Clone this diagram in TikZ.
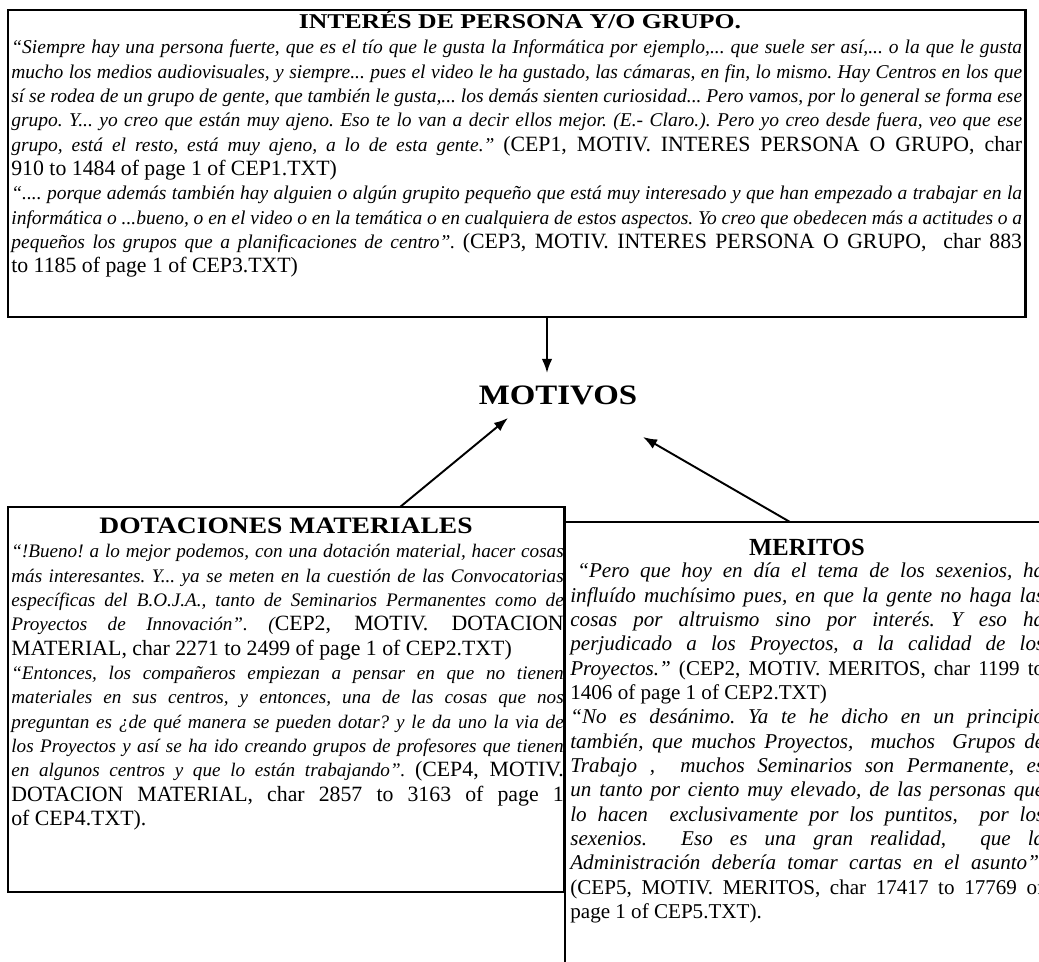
\documentclass[tikz,border=0pt]{standalone}
\usepackage{fontspec}
\setmainfont{Liberation Serif}
\newfontfamily\garbold[FakeStretch=1.17]{Liberation Serif}
\newfontfamily\garwide[FakeStretch=1.22]{Liberation Serif}
\usetikzlibrary{arrows.meta,calc}

% quotation (italic) and reference (roman) runs
\newcommand\Qit[1]{{\fontsize{11.1pt}{13.85pt}\selectfont\itshape #1}}
\newcommand\Dit[1]{{\fontsize{10.9pt}{13.85pt}\selectfont\itshape #1}}
\newcommand\Rrm[1]{{\fontsize{12.4pt}{13.85pt}\selectfont #1}}
\newcommand\Mit[1]{{\fontsize{12pt}{13.85pt}\selectfont\itshape #1}}
\newcommand\Mrm[1]{{\fontsize{12pt}{13.85pt}\selectfont #1}}

\begin{document}
\begin{tikzpicture}[x=0.02cm,y=-0.02cm,
  box/.style={draw, line width=1.6pt, inner sep=0pt, outer sep=0pt, anchor=north west},
  body/.style={inner sep=0pt, anchor=base west, align=justify,
    execute at begin node={\setlength\parindent{0pt}\setlength\parskip{0pt}%
      \frenchspacing\tolerance=10000 \hyphenpenalty=10000 \hbadness=10000}},
  heading/.style={inner sep=0pt, anchor=base},
  link/.style={line width=1.1pt, -{Latex[length=8pt,width=6pt]}}]

\useasboundingbox (0,0) rectangle (1039,962);
\clip (0,0) rectangle (1039,962);

% frames
\node[box, minimum width=20.36cm, minimum height=6.14cm] (topbox) at (8,10) {};
\node[box, minimum width=11.14cm, minimum height=7.7cm] (dotbox) at (8,507) {};
\node[box, minimum width=9.7cm, minimum height=9.6cm] (merbox) at (565,522) {};

% headings
\node[heading, font=\garwide\bfseries\fontsize{12pt}{14pt}\selectfont] (toptitle) at (520,29) {INTERÉS DE PERSONA Y/O GRUPO.};
\node[heading, font=\garbold\bfseries\fontsize{13.4pt}{14pt}\selectfont] (dottitle) at (286,534) {DOTACIONES MATERIALES};
\node[heading, font=\bfseries\fontsize{14pt}{14pt}\selectfont] (mertitle) at (807,556) {MERITOS};
\node[heading, font=\garbold\bfseries\fontsize{16pt}{18pt}\selectfont] (motivos) at (558,405) {MOTIVOS};

% interest of a person or group
\node[body, text width=20.22cm, font=\fontsize{11.1pt}{13.85pt}\selectfont] (toptext) at (11,54) {%
\Qit{“Siempre hay una persona fuerte, que es el tío que le gusta la Informática por ejemplo,... que suele ser así,... o la que le gusta\linebreak
mucho los medios audiovisuales, y siempre... pues el video le ha gustado, las cámaras, en fin, lo mismo. Hay Centros en los que\linebreak
sí se rodea de un grupo de gente, que también le gusta,... los demás sienten curiosidad... Pero vamos, por lo general se forma ese\linebreak
grupo. Y... yo creo que están muy ajeno. Eso te lo van a decir ellos mejor. (E.- Claro.). Pero yo creo desde fuera, veo que ese\linebreak
grupo, está el resto, está muy ajeno, a lo de esta gente.”} \Rrm{(CEP1, MOTIV. INTERES PERSONA O GRUPO, char\linebreak
910 to 1484 of page 1 of CEP1.TXT)}\par
\Qit{“.... porque además también hay alguien o algún grupito pequeño que está muy interesado y que han empezado a trabajar en la\linebreak
informática o ...bueno, o en el video o en la temática o en cualquiera de estos aspectos. Yo creo que obedecen más a actitudes o a\linebreak
pequeños los grupos que a planificaciones de centro”.} \Rrm{(CEP3, MOTIV. INTERES PERSONA O GRUPO,\ \ char 883\linebreak
to 1185 of page 1 of CEP3.TXT)}};

% material endowments
\node[body, text width=11.05cm, font=\fontsize{10.9pt}{13.85pt}\selectfont] (dottext) at (11,558) {%
\Dit{“!Bueno! a lo mejor podemos, con una dotación material, hacer cosas\linebreak
más interesantes. Y... ya se meten en la cuestión de las Convocatorias\linebreak
específicas del B.O.J.A., tanto de Seminarios Permanentes como de\linebreak
Proyectos de Innovación”. (}\Rrm{CEP2, MOTIV. DOTACION\linebreak
MATERIAL, char 2271 to 2499 of page 1 of CEP2.TXT)}\par
\Dit{“Entonces, los compañeros empiezan a pensar en que no tienen\linebreak
materiales en sus centros, y entonces, una de las cosas que nos\linebreak
preguntan es ¿de qué manera se pueden dotar? y le da uno la via de\linebreak
los Proyectos y así se ha ido creando grupos de profesores que tienen\linebreak
en algunos centros y que lo están trabajando”.} \Rrm{(CEP4, MOTIV.\linebreak
DOTACION MATERIAL, char 2857 to 3163 of page 1\linebreak
of CEP4.TXT).}};

% merits
\node[body, text width=9.48cm, font=\fontsize{12pt}{13.85pt}\selectfont] (mertext) at (570,578) {%
\hspace*{4pt}\Mit{“Pero que hoy en día el tema de los sexenios, ha\linebreak
influído muchísimo pues, en que la gente no haga las\linebreak
cosas por altruismo sino por interés. Y eso ha\linebreak
perjudicado a los Proyectos, a la calidad de los\linebreak
Proyectos.”} \Mrm{(CEP2, MOTIV. MERITOS, char 1199 to\linebreak
1406 of page 1 of CEP2.TXT)}\par
\Mit{“No es desánimo. Ya te he dicho en un principio\linebreak
también, que muchos Proyectos,\ \ muchos\ \ Grupos de\linebreak
Trabajo ,\ \ muchos Seminarios son Permanente, es\linebreak
un tanto por ciento muy elevado, de las personas que\linebreak
lo hacen\ \ exclusivamente por los puntitos,\ \ por los\linebreak
sexenios.\ \ Eso es una gran realidad,\ \ que la\linebreak
Administración debería tomar cartas en el asunto”.}\linebreak
\Mrm{(CEP5, MOTIV. MERITOS, char 17417 to 17769 of\linebreak
page 1 of CEP5.TXT).}};

% connectors into the central heading
\coordinate (tipA) at (547,373);
\coordinate (tipB) at (508,418);
\coordinate (tipC) at (643,437);
\draw[link] (topbox.south -| tipA) -- (tipA);
\draw[link] ($(dotbox.north west)!0.704!(dotbox.north east)$) -- (tipB);
\draw[link] ($(merbox.north west)!0.464!(merbox.north east)$) -- (tipC);
\end{tikzpicture}
\end{document}
